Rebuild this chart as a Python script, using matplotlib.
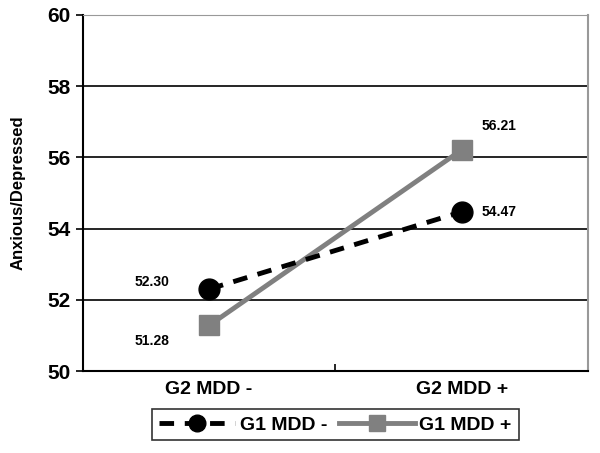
import matplotlib.pyplot as plt
import numpy as np

categories = ["G2 MDD -", "G2 MDD +"]
g1_minus = [52.30, 54.47]
g1_plus = [51.28, 56.21]
series_names = ["G1 MDD -", "G1 MDD +"]

plt.rcParams['font.family'] = ['Liberation Sans', 'DejaVu Sans']
plt.rcParams['font.weight'] = 'bold'

fig = plt.figure(figsize=(6, 4.53), dpi=100)
ax = fig.add_axes([0.138, 0.181, 0.842, 0.786])

x = np.array([0.5, 1.5])
ax.plot(x, g1_minus, linestyle=(0, (3, 2.2)), color="black", lw=3.5,
        marker="o", markersize=15, label=series_names[0], zorder=4)
ax.plot(x, g1_plus, linestyle="-", color="#808080", lw=3.5,
        marker="s", markersize=15, label=series_names[1], zorder=3)

# value labels
lab_kw = dict(textcoords="offset points", ha="center", va="center", fontsize=10, fontweight="bold")
ax.annotate(f"{g1_minus[0]:.2f}", (x[0], g1_minus[0]), xytext=(-41, 5), **lab_kw)
ax.annotate(f"{g1_plus[0]:.2f}", (x[0], g1_plus[0]), xytext=(-41, -11), **lab_kw)
ax.annotate(f"{g1_plus[1]:.2f}", (x[1], g1_plus[1]), xytext=(27, 17), **lab_kw)
ax.annotate(f"{g1_minus[1]:.2f}", (x[1], g1_minus[1]), xytext=(27, 0), **lab_kw)

ax.set_xlim(0, 2)
ax.set_ylim(50, 60)
ax.set_yticks(np.arange(50, 61, 2))
ax.set_xticks([0, 1, 2])
ax.set_xticklabels([])
ax.set_xticks(x, minor=True)
ax.set_xticklabels(categories, minor=True)
ax.tick_params(axis="x", which="minor", length=0, pad=7, labelsize=14)
ax.tick_params(axis="x", which="major", length=5, width=1.2, direction="in")
ax.tick_params(axis="y", labelsize=15, length=5, width=1.2)
for lab in ax.get_yticklabels() + ax.get_xticklabels(minor=True):
    lab.set_fontweight("bold")

ax.grid(axis="y", color="black", lw=1.2)
ax.set_axisbelow(True)
ax.spines["left"].set_linewidth(1.5)
ax.spines["bottom"].set_linewidth(1.5)
ax.spines["top"].set_color("#999999")
ax.spines["right"].set_color("#999999")
ax.spines["right"].set_linewidth(1.5)

ax.set_ylabel("Anxious/Depressed", fontsize=12, fontweight="bold", labelpad=16)

leg = ax.legend(loc="upper center", bbox_to_anchor=(0.5, -0.08), ncol=2,
                frameon=True, fancybox=False, edgecolor="black", fontsize=14,
                handlelength=3.9, columnspacing=0.6, handletextpad=0.25,
                borderpad=0.35, markerscale=0.8)
leg.get_frame().set_linewidth(1.2)
for t in leg.get_texts():
    t.set_fontweight("bold")

fig.savefig("out.png", dpi=100)
